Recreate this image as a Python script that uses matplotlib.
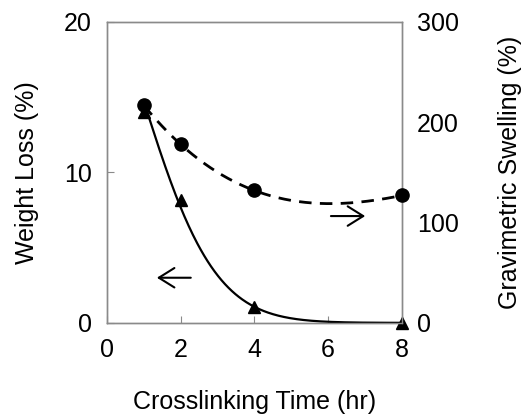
import matplotlib
matplotlib.use("Agg")
import matplotlib.pyplot as plt
import numpy as np

plt.rcParams['font.family'] = ['Liberation Sans', 'DejaVu Sans']

# data
time_hr = [1, 2, 4, 8]
weight_loss = [14.0, 8.2, 1.05, 0.0]        # left axis, triangles
swelling = [217, 178, 132, 127]             # right axis, circles

x_ticks = [0, 2, 4, 6, 8]
left_ticks = [0, 10, 20]
right_ticks = [0, 100, 200, 300]

spine_col = '#8a8a8a'
fs = 18


def fit_decay(x, y, p=1.6):
    # y = A*exp(-k*x^p), fitted in log space on the non-zero points
    x = np.asarray(x, float)
    y = np.asarray(y, float)
    keep = y > 0
    slope, icpt = np.polyfit(x[keep] ** p, np.log(y[keep]), 1)
    return lambda t: np.exp(icpt + slope * t ** p)


fig = plt.figure(figsize=(5.24, 4.15), dpi=100)
ax = fig.add_axes([0.204, 0.222, 0.563, 0.725])
ax2 = ax.twinx()

xs = np.linspace(1, 8, 300)

# weight loss (left)
decay = fit_decay(time_hr, weight_loss)
ax.plot(xs, decay(xs), color='black', lw=1.6, zorder=3)
ax.plot(time_hr, weight_loss, linestyle='none', marker='^', color='black',
        markersize=9, clip_on=False, zorder=4)

# swelling (right)
coef = np.polyfit(time_hr, swelling, 3)
ax2.plot(xs, np.polyval(coef, xs), color='black', lw=2.0,
         dashes=(4.5, 3), zorder=3)
ax2.plot(time_hr, swelling, linestyle='none', marker='o', color='black',
         markersize=9.5, clip_on=False, zorder=4)

ax.set_xlim(0, 8)
ax.set_ylim(0, 20)
ax2.set_ylim(0, 300)
ax.set_xticks(x_ticks)
ax.set_yticks(left_ticks)
ax2.set_yticks(right_ticks)

for a in (ax, ax2):
    for s in a.spines.values():
        s.set_color(spine_col)
        s.set_linewidth(1.0)

ax.tick_params(axis='x', direction='in', length=5, color=spine_col,
               labelsize=fs, pad=11)
ax.tick_params(axis='y', direction='in', length=5, color=spine_col,
               labelsize=fs, pad=11)
ax2.tick_params(axis='y', direction='in', length=0, labelsize=fs, pad=11)

ax.set_xlabel('Crosslinking Time (hr)', fontsize=fs, labelpad=20)
ax.set_ylabel('Weight Loss (%)', fontsize=fs, labelpad=18)
ax2.set_ylabel('Gravimetric Swelling (%)', fontsize=fs, labelpad=28)

# direction arrows
arrow = dict(arrowstyle='->, head_length=0.4, head_width=0.25',
             color='black', lw=1.5, mutation_scale=28)
ax.annotate('', xy=(1.28, 3.0), xytext=(2.35, 3.0), arrowprops=arrow)
ax.annotate('', xy=(7.08, 7.1), xytext=(6.0, 7.1), arrowprops=arrow)

fig.savefig('out.png', dpi=100)
